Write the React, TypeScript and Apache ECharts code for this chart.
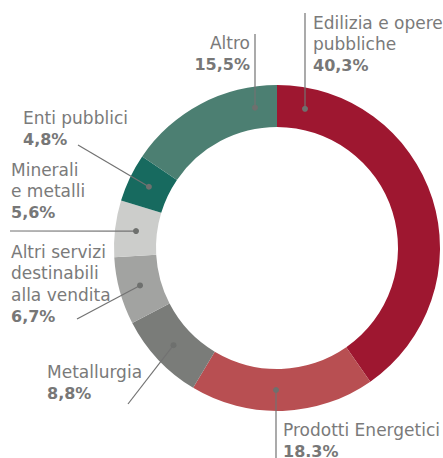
import React, { useEffect, useRef } from "react";
import * as echarts from "echarts";

const categories = [
  "Edilizia e opere pubbliche",
  "Prodotti Energetici",
  "Metallurgia",
  "Altri servizi destinabili alla vendita",
  "Minerali e metalli",
  "Enti pubblici",
  "Altro",
];
const values = [40.3, 18.3, 8.8, 6.7, 5.6, 4.8, 15.5];
const valueLabels = ["40,3%", "18.3%", "8,8%", "6,7%", "5,6%", "4,8%", "15,5%"];
const labelLines = [
  ["Edilizia e opere", "pubbliche"],
  ["Prodotti Energetici"],
  ["Metallurgia"],
  ["Altri servizi", "destinabili", "alla vendita"],
  ["Minerali", "e metalli"],
  ["Enti pubblici"],
  ["Altro"],
];
const colors = ["#9E1730", "#B84F52", "#7A7C79", "#A2A3A1", "#CCCDCB", "#176A5F", "#4C7F72"];

// layout (positions only)
const CX = 277;
const CY = 248;
const R_IN = 121;
const R_OUT = 163;
const LH = 21.5;
const FONT = "DejaVu Sans";
type Lay = { tx: number; ty: number; align: string; ex: number; ey: number; dotX?: number; below?: boolean };
const layout: Lay[] = [
  { tx: 313, ty: 12, align: "left", ex: 305, ey: 13, dotX: 305 },
  { tx: 283, ty: 419, align: "left", ex: 276, ey: 460, dotX: 276, below: true },
  { tx: 47, ty: 361, align: "left", ex: 128, ey: 404 },
  { tx: 11, ty: 241, align: "left", ex: 77, ey: 319 },
  { tx: 11, ty: 159, align: "left", ex: 10, ey: 231 },
  { tx: 23, ty: 107, align: "left", ex: 78, ey: 145 },
  { tx: 250, ty: 32, align: "right", ex: 255, ey: 34, dotX: 255 },
];

export default function App() {
  const ref = useRef<HTMLDivElement>(null);
  useEffect(() => {
    if (!ref.current) return;
    const chart = echarts.init(ref.current, null, { renderer: "svg" });
    const total = values.reduce((a, b) => a + b, 0);
    const rMid = (R_IN + R_OUT) / 2;
    let cum = 0;
    const graphics: any[] = [];
    values.forEach((v, i) => {
      const mid = ((cum + v / 2) / total) * Math.PI * 2;
      cum += v;
      const L = layout[i];
      let dx: number, dy: number;
      if (L.dotX !== undefined) {
        dx = L.dotX;
        const ox = L.dotX - CX;
        const h = Math.sqrt(rMid * rMid - ox * ox);
        dy = L.below ? CY + h : CY - h;
      } else {
        dx = CX + rMid * Math.sin(mid);
        dy = CY - rMid * Math.cos(mid);
      }
      graphics.push({
        type: "line",
        silent: true,
        z: 10,
        shape: { x1: L.ex, y1: L.ey, x2: dx, y2: dy },
        style: { stroke: "#727272", lineWidth: 1.2 },
      });
      graphics.push({
        type: "circle",
        silent: true,
        z: 11,
        shape: { cx: dx, cy: dy, r: 3 },
        style: { fill: "#6E706E" },
      });
      const txt =
        labelLines[i].map((s) => `{n|${s}}`).join("\n") + `\n{b|${valueLabels[i]}}`;
      graphics.push({
        type: "text",
        silent: true,
        z: 12,
        x: L.tx,
        y: L.ty,
        style: {
          text: txt,
          align: L.align,
          verticalAlign: "top",
          fontFamily: FONT,
          rich: {
            n: { fontSize: 17, lineHeight: LH, fill: "#7A7A7A", fontFamily: FONT },
            b: { fontSize: 16, lineHeight: LH, fill: "#777777", fontWeight: "bold", fontFamily: FONT },
          },
        },
      });
    });

    chart.setOption({
      animation: false,
      series: [
        {
          type: "pie",
          center: [CX, CY],
          radius: [R_IN, R_OUT],
          startAngle: 90,
          clockwise: true,
          silent: true,
          label: { show: false },
          labelLine: { show: false },
          itemStyle: { borderWidth: 0 },
          data: categories.map((c, i) => ({
            name: c,
            value: values[i],
            itemStyle: { color: colors[i] },
          })),
        },
      ],
      graphic: graphics,
    });
    return () => chart.dispose();
  }, []);
  return (
    <div
      ref={ref}
      style={{ position: "fixed", left: 0, top: 0, width: 443, height: 458, background: "#fff" }}
    />
  );
}
